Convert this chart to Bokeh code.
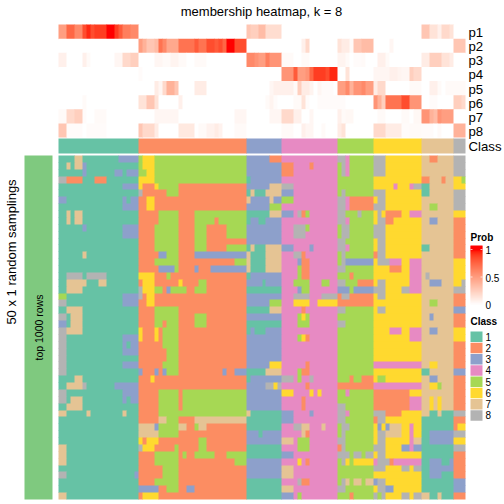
from bokeh.plotting import figure
from bokeh.models import ColumnDataSource, Range1d, LinearColorMapper
from bokeh.core.properties import value
from bokeh.embed import file_html
from bokeh.resources import INLINE
import numpy as np

TITLE = "membership heatmap, k = 8"
ROW_TITLE = "50 x 1 random samplings"
BLOCK_TITLE = "top 1000 rows"
P_LABELS = ["p1", "p2", "p3", "p4", "p5", "p6", "p7", "p8"]
CLASS_LABELS = ["1", "2", "3", "4", "5", "6", "7", "8"]
CLASS_COLORS = ["#66C2A5", "#FC8D62", "#8DA0CB", "#E78AC3", "#A6D854", "#FFD92F", "#E5C494", "#B3B3B3"]
BLOCK_COLOR = "#7FC97F"
PROB_TICKS = [1, 0.5, 0]
PROB_TICK_LABELS = ["1", "0.5", "0"]

# class of the columns along the top bar: class, count
CLASS_RUNS = [(1, 20), (2, 27), (3, 9), (4, 14), (5, 9), (6, 12), (7, 8), (8, 3)]

# membership probability per column, run-length coded value*count
P1 = ".5*2 .75*2 .6*2 .85*1 .95*1 .85*1 .9*3 1*2 .9*1 .8*1 .65*2 .6*2 0*27 .3*1 .25*2 .35*2 .18*4 0*35 .3*2 .15*2 .08*1 .2*2 .15*1 0*3"
P2 = "0*20 .5*1 .4*1 .3*2 .35*1 .7*1 .6*1 .45*3 .7*4 .8*1 .7*2 .85*2 .8*1 .85*1 .75*1 1*2 .85*3 0*9 0*5 .08*1 .2*1 0*7 .15*1 .1*2 .03*1 .3*2 .35*3 0*4 .05*1 0*7 0*8 .3*3"
P3 = ".08*2 0*4 .08*1 .03*1 0*6 .05*2 .2*2 .25*2 0*4 .05*2 .03*2 .06*2 .03*2 0*2 .03*3 0*10 .6*2 .55*1 .5*2 .65*1 .55*3 .03*3 0*2 .03*2 0*7 .06*2 .03*1 0*1 .02*2 .03*1 0*2 0*1 .08*2 .03*1 0*8 .1*2 .25*3 .15*2 .1*1 0*3"
P4 = "0*20 .02*1 0*26 0*9 .55*3 .8*1 .5*2 .55*1 .75*1 .9*3 .85*1 .95*2 0*2 .15*1 0*6 .05*4 .08*2 .06*1 .05*2 .25*1 .2*2 0*8 0*3"
P5 = "0*20 0*4 .1*1 .05*1 .2*1 .4*2 .3*1 0*4 .1*3 0*10 0*6 .05*1 .08*2 .08*3 .03*1 .25*1 .1*2 .06*1 0*1 .05*1 .02*1 .02*2 0*1 .5*2 .6*1 .4*1 .55*2 .6*1 .5*2 .1*1 .2*2 0*6 .03*3 0*2 .08*2 .03*1 0*1 .03*2 .03*3"
P6 = "0*6 .03*1 0*13 .15*2 .3*2 .15*1 0*5 .08*1 0*16 0*5 .03*1 .06*1 .02*1 0*1 0*3 .03*2 .15*1 .02*1 0*2 .02*5 .02*2 0*7 .55*1 .4*1 .25*1 .7*4 .85*2 .55*3 0*2 .02*2 0*4 .25*2 .2*1"
P7 = ".03*2 .2*2 .25*2 .02*1 0*2 .03*3 0*8 0*4 .05*6 0*14 .05*3 0*6 .05*3 .2*3 .08*2 0*2 .05*1 0*6 .08*1 .03*1 .04*2 0*5 0*1 .03*2 0*4 .03*2 0*1 .04*2 .55*2 .4*1 .35*1 .55*1 .5*3 0*3"
P8 = ".3*2 .02*4 0*1 .02*5 0*8 .3*1 .2*3 .1*1 0*5 .12*4 0*1 .03*2 .07*2 .1*1 .07*1 0*3 .03*3 0*9 .03*3 0*2 .08*1 .05*2 0*2 .03*1 0*3 .1*1 .15*1 0*7 .2*3 .1*4 .02*2 .03*3 .02*3 0*1 .03*1 0*3 .4*3"

# main matrix: one list per column block, one string per row, class.count runs
BLOCK_A = ["1.4 7.2 1.9 3.5", "1.2 7.1 1.1 7.2 3.1 1.13", "1.6 3.1 1.7 3.2 1.1 3.3", "8.2 2.4 1.3 2.3 1.8", "1.16 3.4", "1.20",
           "3.2 1.14 3.1 1.1 3.2", "1.16 3.4", "1.2 7.1 1.1 7.2 1.14", "1.2 7.1 1.1 7.2 1.14", "1.6 3.1 1.9 3.4", "1.16 3.4",
           "1.20", "1.20", "1.6 7.1 1.13", "1.20", "1.20", "1.2 8.4 1.1 8.5 1.8", "1.2 7.5 1.3 7.2 1.8", "1.2 7.4 1.14",
           "5.2 1.14 3.4", "8.2 1.14 3.4", "1.2 7.4 1.14", "8.2 1.1 7.3 1.14", "3.2 1.1 7.3 1.14", "8.2 7.4 1.14",
           "8.2 1.14 3.4", "8.2 1.14 3.1 1.1 3.2", "8.2 1.14 3.4", "8.2 1.18", "8.2 1.14 3.4", "8.2 1.18", "1.4 7.2 1.14",
           "1.2 7.4 8.1 1.7 3.6", "8.2 1.14 3.4", "8.2 1.1 7.3 1.10 3.1 1.1 3.2", "1.2 7.4 1.14", "7.2 1.5 7.1 1.8 7.1 1.3",
           "1.20", "1.20", "1.20", "1.20", "7.2 1.18", "7.2 1.18", "7.2 1.18", "1.20", "8.2 1.17 3.1", "1.20", "1.20", "7.2 1.18"]
BLOCK_B = ["5.1 6.3 5.23", "5.1 6.3 5.23", "5.2 6.2 5.23", "6.4 5.23", "6.1 2.3 6.1 5.5 2.17", "8.1 2.6 5.3 2.17", "2.2 6.2 2.23", "2.2 6.2 2.23",
           "2.5 5.5 2.4 5.13", "2.5 5.5 2.4 5.5 2.1 5.7", "2.4 5.6 2.4 5.3 2.5 5.5", "2.4 5.6 2.4 5.3 2.5 5.5", "2.4 5.6 2.4 5.3 2.10",
           "2.4 5.6 2.4 5.3 2.5 5.5", "2.5 3.2 5.3 2.4 3.13", "2.4 5.6 2.14 5.3", "2.5 3.4 5.1 2.4 3.1 2.3 3.9", "6.4 2.3 5.1 2.19",
           "2.1 6.3 2.6 6.1 2.4 5.2 2.10", "8.1 6.3 5.2 2.1 3.1 5.4 2.2 5.3 2.10", "8.1 2.1 6.2 2.23", "2.2 6.2 2.23", "2.4 5.6 2.17",
           "2.4 5.6 2.4 5.3 2.10", "2.4 5.2 2.1 5.3 2.4 5.3 2.10", "6.1 2.3 6.1 2.1 5.4 2.17", "6.1 2.3 6.1 2.1 5.4 2.17", "2.6 5.4 2.17",
           "2.7 5.3 2.17", "2.7 5.3 2.17", "2.6 5.4 2.17", "3.1 2.3 3.1 2.1 3.1 5.3 2.11 3.1 2.2 3.3", "2.3 6.1 2.23", "2.27",
           "2.5 5.5 2.1 5.16", "2.5 5.5 2.1 5.16", "2.5 5.5 2.1 5.16", "2.5 5.22", "2.5 7.2 5.3 2.4 7.13", "7.4 3.1 5.5 7.2 2.2 5.1 7.2 2.10",
           "7.5 5.5 2.17", "6.1 2.1 6.3 2.10 5.2 2.10", "8.1 6.3 2.5 5.1 2.5 5.2 2.10", "2.4 5.6 2.1 5.1 2.2 5.5 2.3 5.5", "2.4 5.6 2.14 5.3",
           "2.6 5.4 2.17", "2.6 5.4 2.17", "2.4 5.6 2.17", "3.5 2.2 5.3 2.2 3.2 2.13", "2.1 6.4 2.22"]
BLOCK_C = ["3.6 2.3", "3.9", "3.9", "1.1 3.8", "3.6 7.3", "1.1 7.1 1.3 7.4", "7.1 3.5 7.1 3.2", "3.6 5.3", "1.6 7.3", "1.1 3.2 1.2 3.4",
           "3.9", "3.9", "3.9", "1.1 7.1 1.3 7.4", "7.1 1.4 7.4", "7.1 1.4 7.4", "7.1 1.4 7.4", "1.1 3.8", "3.4 1.1 3.4", "1.9", "3.9",
           "3.6 5.3", "1.6 7.3", "3.9", "1.9", "1.1 3.1 1.3 3.4", "3.9", "3.9", "3.9", "3.9", "3.6 6.3", "1.5 7.4", "1.1 3.8",
           "3.5 8.2 6.1 8.1", "3.9", "3.9", "3.9", "7.1 1.8", "1.9", "1.9", "3.3 1.1 3.5", "3.9", "1.9", "1.9", "3.9", "3.9", "3.9", "1.9", "1.9", "1.9"]
BLOCK_D = ["4.14", "2.3 4.4 2.1 4.6", "2.3 4.11", "4.14", "8.3 4.11", "3.3 4.11", "5.3 4.11", "4.14", "3.3 4.1 8.1 2.1 5.1 4.7", "4.14",
           "4.3 8.3 5.1 4.7", "4.3 8.3 4.8", "4.14", "3.3 4.4 3.1 4.6", "4.3 8.2 2.1 4.8", "4.4 3.1 2.2 4.7", "4.4 5.1 2.2 4.7", "4.4 5.1 2.2 4.7",
           "4.3 5.4 4.3 5.2 4.2", "4.4 3.1 5.2 4.7", "4.3 8.4 4.3 8.4", "4.3 6.4 4.2 6.5", "4.5 2.1 4.8", "4.4 5.1 6.1 5.1 4.7", "4.4 5.3 4.7",
           "4.14", "4.4 5.1 6.1 2.1 4.7", "4.14", "4.14", "4.14", "4.6 2.1 4.7", "4.4 5.1 2.2 4.7", "8.3 4.1 5.1 4.2 8.1 4.6", "4.6 2.1 4.7",
           "6.3 4.4 6.1 4.1 6.1 4.4", "4.5 2.1 4.8", "4.5 2.1 4.8", "3.3 4.4 3.1 4.6", "3.3 4.11", "4.3 8.2 7.2 4.3 7.1 4.3", "4.5 7.1 2.1 4.7",
           "7.3 4.1 5.3 4.7", "4.4 5.3 4.7", "3.3 4.11", "4.4 6.1 4.1 2.1 4.7", "7.3 4.11", "7.3 4.11", "4.4 8.1 2.2 4.7", "7.3 4.11", "3.3 4.1 5.1 4.9"]
BLOCK_E = ["8.2 4.1 5.6", "5.1 8.1 4.1 5.6", "5.1 8.1 4.1 5.6", "5.9", "5.9", "5.1 8.1 5.7", "8.2 4.1 2.6", "8.2 4.1 2.6", "8.2 5.3 8.1 5.3",
           "8.2 4.1 5.6", "5.1 8.2 5.6", "5.1 8.2 5.6", "8.2 5.7", "8.2 4.1 5.6", "5.1 8.1 5.7", "5.1 8.1 3.7", "8.2 5.7", "5.3 2.1 5.5",
           "8.2 5.3 2.4", "3.3 5.1 3.5", "2.1 8.2 2.6", "2.9", "8.2 5.7", "5.9", "8.2 5.7", "5.9", "5.9", "5.9", "5.9", "5.9", "5.9", "5.9",
           "5.3 2.1 5.2 2.3", "2.9", "5.2 4.1 5.6", "5.9", "8.2 5.7", "8.2 4.1 5.6", "8.2 5.7", "5.1 8.2 5.6", "5.1 8.1 5.7", "8.2 5.7",
           "2.1 8.1 5.7", "8.3 5.1 8.2 5.1 8.2", "5.1 8.1 6.1 5.1 6.5", "5.9", "5.9", "5.1 8.1 7.1 5.1 7.2 5.1 7.2", "8.2 5.7", "5.3 2.1 5.5"]
BLOCK_F = ["8.3 6.9", "8.3 6.9", "8.3 6.9", "6.12", "6.5 4.1 6.3 4.1 8.2", "8.3 6.9", "6.1 8.2 6.9", "8.3 6.9", "6.1 8.1 6.1 2.4 6.2 4.3",
           "6.1 8.2 2.2 6.7", "8.3 6.9", "8.3 6.9", "6.1 8.2 6.9", "6.1 8.2 6.9", "2.1 8.2 6.9", "6.1 8.3 4.3 6.2 4.3", "6.4 2.3 6.2 4.3",
           "6.9 4.3", "6.1 8.2 6.6 4.3", "8.3 6.4 8.2 4.3", "6.1 8.2 6.9", "6.12", "6.1 8.2 6.9", "6.12", "6.12", "6.4 4.3 6.2 4.3", "6.9 4.3",
           "6.12", "6.12", "6.12", "4.12", "6.12", "6.1 5.2 6.9", "4.12", "2.9 6.3", "2.9 4.3", "2.9 4.3", "8.3 2.4 6.5", "2.1 8.2 6.9",
           "6.1 3.1 6.1 3.1 7.3 6.2 4.1 6.2", "6.1 8.2 7.4 6.2 4.1 6.2", "6.1 8.2 6.6 4.1 7.2", "8.3 6.4 3.2 4.1 3.2", "6.1 8.2 6.9",
           "4.1 8.3 2.1 4.7", "8.3 6.4 8.2 6.1 8.2", "6.12", "3.1 8.2 6.9", "6.1 8.2 3.2 6.7", "8.1 5.1 8.1 6.4 8.2 6.1 8.2"]
BLOCK_G = ["7.2 2.2 7.4", "7.8", "7.8", "2.2 7.3 2.1 7.2", "1.2 7.6", "1.2 7.6", "7.8", "7.2 5.2 7.4", "7.8", "7.2 3.2 7.4", "7.8", "7.8", "7.8",
           "1.2 7.6", "7.8", "7.8", "7.8", "7.1 8.1 7.6", "7.2 3.3 7.3", "7.8", "7.8", "7.2 5.2 7.4", "7.8", "7.2 3.1 7.5", "7.8", "7.2 3.2 7.4",
           "7.8", "7.8", "7.8", "7.8", "7.2 6.2 7.4", "1.2 7.6", "7.2 3.2 7.4", "7.2 6.2 5.1 7.3", "7.8", "7.2 6.1 7.1 6.1 7.3", "7.2 6.1 7.1 6.1 7.3",
           "7.2 1.2 7.1 1.3", "1.8", "1.8", "1.2 3.6", "1.2 3.6", "1.8", "1.8", "1.2 3.3 1.2 3.1", "1.2 3.6", "1.2 3.3 1.3", "1.8", "1.8", "7.2 1.2 7.1 1.3"]
BLOCK_H = ["8.3", "8.3", "8.3", "6.2 5.1", "6.3", "8.3", "8.3", "8.3", "6.3", "2.3", "2.3", "2.3", "2.3", "2.3", "2.3", "6.3", "6.3", "6.3", "6.2 8.1",
           "8.3", "2.3", "2.3", "3.3", "2.3", "2.3", "6.3", "6.3", "2.3", "2.3", "2.3", "2.3", "3.3", "2.3", "2.3", "2.3", "2.3", "2.3", "8.3", "2.3",
           "2.1 6.2", "8.3", "6.3", "8.3", "2.3", "2.3", "2.3", "2.3", "3.3", "3.3", "2.3"]

BLOCKS = [BLOCK_A, BLOCK_B, BLOCK_C, BLOCK_D, BLOCK_E, BLOCK_F, BLOCK_G, BLOCK_H]
P_ROWS = [P1, P2, P3, P4, P5, P6, P7, P8]

N_COLS = 102
N_ROWS = 50
W = H = 504
OVER = 0.6  # overlap that hides the seams between adjoining cells


def col_edge(j):
    return float(np.round(58 + j * 407 / N_COLS))


def row_edge(r):
    return float(np.round(155 + r * 344 / N_ROWS))


def anno_edge(r):
    return float(24 + r * 113 / 8)


def lab_ramp(n=256):
    def to_xyz(c):
        c = np.asarray(c, float)
        c = np.where(c > 0.04045, ((c + 0.055) / 1.055) ** 2.4, c / 12.92)
        m = np.array([[.4124564, .3575761, .1804375], [.2126729, .7151522, .0721750], [.0193339, .1191920, .9503041]])
        return m @ c
    wp = to_xyz([1, 1, 1])

    def to_lab(c):
        t = to_xyz(c) / wp
        f = np.where(t > 216 / 24389, np.cbrt(t), (24389 / 27 * t + 16) / 116)
        return np.array([116 * f[1] - 16, 500 * (f[0] - f[1]), 200 * (f[1] - f[2])])

    def from_lab(l):
        fy = (l[0] + 16) / 116
        f = np.array([fy + l[1] / 500, fy, fy - l[2] / 200])
        t = np.where(f ** 3 > 216 / 24389, f ** 3, (116 * f - 16) * 27 / 24389)
        m = np.array([[3.2404542, -1.5371385, -0.4985314], [-0.9692660, 1.8760108, 0.0415560], [0.0556434, -0.2040259, 1.0572252]])
        rgb = np.clip(m @ (t * wp), 0, 1)
        rgb = np.where(rgb > 0.0031308, 1.055 * rgb ** (1 / 2.4) - 0.055, 12.92 * rgb)
        return "#%02X%02X%02X" % tuple(int(round(v * 255)) for v in np.clip(rgb, 0, 1))
    a, b = to_lab([1, 1, 1]), to_lab([1, 0, 0])
    return [from_lab(a + (b - a) * t) for t in np.linspace(0, 1, n)]


mapper = LinearColorMapper(palette=lab_ramp(), low=0, high=1)

p = figure(width=W, height=H, output_backend="svg", toolbar_location=None,
           x_range=Range1d(0, W), y_range=Range1d(H, 0),
           min_border=0, outline_line_color=None, background_fill_color="white")
p.axis.visible = False
p.grid.visible = False

# main matrix
left, right, top, bottom, color = [], [], [], [], []
for r in range(N_ROWS):
    j = 0
    for block in BLOCKS:
        for tok in block[r].split():
            c, n = tok.split(".")
            c, n = int(c), int(n)
            left.append(col_edge(j)); right.append(col_edge(j + n) + (OVER if j + n < N_COLS else 0))
            top.append(row_edge(r)); bottom.append(row_edge(r + 1) + (OVER if r + 1 < N_ROWS else 0))
            color.append(CLASS_COLORS[c - 1])
            j += n
    assert j == N_COLS, (r, j)
p.quad(left="l", right="r", top="t", bottom="b", fill_color="c", line_color=None,
       source=ColumnDataSource(dict(l=left, r=right, t=top, b=bottom, c=color)))

# probability rows
left, right, top, bottom, vals = [], [], [], [], []
for r, row in enumerate(P_ROWS):
    j = 0
    for tok in row.split():
        v, n = tok.split("*")
        v, n = float(v), int(n)
        left.append(col_edge(j)); right.append(col_edge(j + n) + (OVER if j + n < N_COLS else 0))
        top.append(anno_edge(r)); bottom.append(anno_edge(r + 1) + (OVER if r < 7 else 0))
        vals.append(v)
        j += n
    assert j == N_COLS, (r, j)
p.quad(left="l", right="r", top="t", bottom="b", line_color=None,
       fill_color={"field": "v", "transform": mapper},
       source=ColumnDataSource(dict(l=left, r=right, t=top, b=bottom, v=vals)))

# class bar
j = 0
left, right, color = [], [], []
for c, n in CLASS_RUNS:
    left.append(col_edge(j)); right.append(col_edge(j + n) + (OVER if j + n < N_COLS else 0)); color.append(CLASS_COLORS[c - 1])
    j += n
p.quad(left="l", right="r", top=138, bottom=153, fill_color="c", line_color=None,
       source=ColumnDataSource(dict(l=left, r=right, c=color)))

# row block
p.quad(left=[24], right=[52], top=[155], bottom=[499], fill_color=BLOCK_COLOR, line_color=None)

FONT = value("Liberation Sans")


def txt(x, y, s, size, align="left", angle=0, style="normal", color="#000000"):
    p.text(x=[x], y=[y], text=[s], text_font=FONT, text_font_size=size, text_align=align,
           text_baseline="middle", angle=angle, text_font_style=style, text_color=color)


txt(261, 11, TITLE, "13px", "center")
for r, lab in enumerate(P_LABELS):
    txt(468, anno_edge(r + 0.5) + 1, lab, "13.2px")
txt(468, 146, "Class", "13.2px")
txt(11, 251.5, ROW_TITLE, "13px", "center", angle=np.pi / 2)
txt(38, 327, BLOCK_TITLE, "10.5px", "center", angle=np.pi / 2)

# probability legend
txt(470, 237, "Prob", "10px", style="bold")
ramp_y = np.linspace(245, 304, 60)
p.quad(left=470, right=482, top="t", bottom="b", line_color=None,
       fill_color={"field": "v", "transform": mapper},
       source=ColumnDataSource(dict(t=ramp_y[:-1], b=ramp_y[1:] + 0.4,
                                    v=np.clip((304 - ramp_y[:-1]) / 55, 0, 1))))
for tv, tl in zip(PROB_TICKS, PROB_TICK_LABELS):
    y = 304 - 55 * tv
    txt(485, y + 0.5, tl, "10px")
    if tv > 0:
        p.segment(x0=[470, 480], x1=[472, 482], y0=[y, y], y1=[y, y], line_color="#FFFFFF", line_width=0.7)

# class legend
txt(470, 321, "Class", "10px", style="bold")
for i, (lab, col) in enumerate(zip(CLASS_LABELS, CLASS_COLORS)):
    y = 330.5 + i * 11.25
    p.quad(left=[470], right=[482], top=[y + 0.4], bottom=[y + 10.9], fill_color=col, line_color=None)
    txt(485, y + 5.6, lab, "10px")

open("out.html", "w").write(file_html(p, INLINE))
